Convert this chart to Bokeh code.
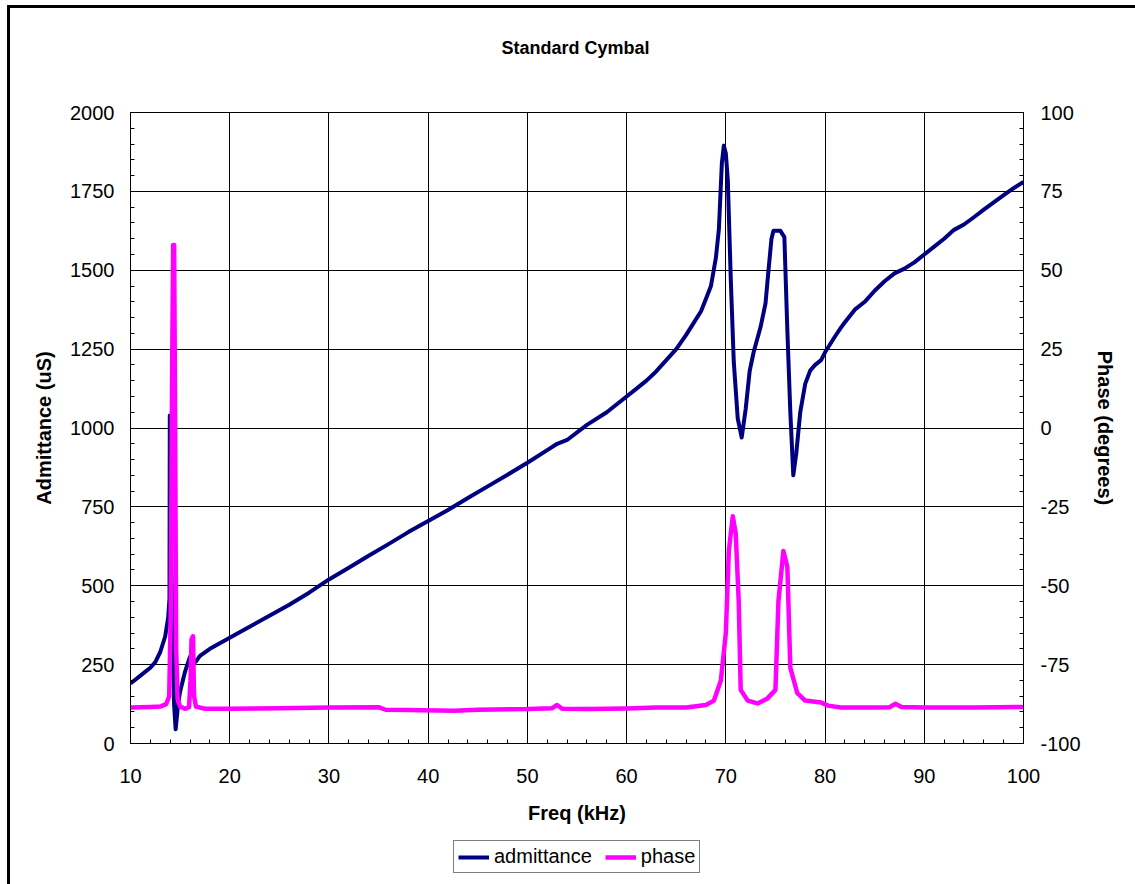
from bokeh.plotting import figure
from bokeh.layouts import column
from bokeh.models import (LinearAxis, Range1d, Legend, LegendItem, Label,
                          SingleIntervalTicker, PrintfTickFormatter, InlineStyleSheet)
from bokeh.embed import file_html
from bokeh.resources import INLINE

title_text = "Standard Cymbal"
x_label = "Freq (kHz)"
y_left_label = "Admittance (uS)"
y_right_label = "Phase (degrees)"
series_names = ["admittance", "phase"]

# Admittance (uS) vs frequency (kHz)
adm_freq = [10.0, 11.0, 12.0, 12.5, 13.0, 13.5, 13.8, 13.93, 13.96, 14.0, 14.2, 14.4, 14.55,
            14.8, 15.0, 15.5, 15.98, 16.2, 16.4, 16.6, 17.0, 18.0, 19.0, 20.0,
            22, 24, 26, 28, 30, 32, 34, 36, 38, 40, 42, 44, 46, 48, 50, 52, 53, 54,
            56, 58, 60, 61, 62, 63, 64, 65, 66, 67, 67.5, 68, 68.5, 69.0, 69.3, 69.6,
            69.8, 70.0, 70.2, 70.5, 70.8, 71.2, 71.6, 72.0, 72.4, 72.8, 73.5, 74.0,
            74.3, 74.6, 74.8, 75.5, 75.9, 76.2, 76.5, 76.8, 77.1, 77.5, 78.0, 78.5,
            79.0, 79.6, 80, 81, 81.6, 82, 83, 84, 85, 86, 87, 88, 89, 90, 91, 92, 93,
            94, 95, 96, 97, 98, 99, 100]
admittance = [190, 215, 240, 258, 290, 340, 400, 460, 1040, 800, 400, 120, 45,
              125, 165, 228, 274, 282, 255, 260, 278, 300, 318, 335,
              370, 405, 440, 478, 520, 557, 595, 632, 670, 705, 740, 778, 815, 852,
              890, 930, 950, 962, 1010, 1050, 1100, 1125, 1150, 1180, 1215, 1250,
              1295, 1345, 1370, 1410, 1450, 1540, 1630, 1840, 1895, 1870, 1785, 1470,
              1210, 1030, 970, 1060, 1180, 1240, 1320, 1395, 1500, 1600, 1625, 1625,
              1605, 1310, 1050, 850, 920, 1050, 1140, 1182, 1200, 1215, 1240, 1290,
              1318, 1335, 1375, 1400, 1435, 1465, 1490, 1505, 1525, 1550, 1575, 1600,
              1628, 1645, 1668, 1692, 1715, 1738, 1760, 1780]

# Phase (degrees) vs frequency (kHz)
ph_freq = [10, 12, 13, 13.6, 13.9, 14.05, 14.2, 14.3, 14.4, 14.5, 14.6, 14.75, 15.0,
           15.5, 15.9, 16.05, 16.15, 16.3, 16.4, 16.6, 17.5, 20, 25, 30, 35, 35.7,
           38, 42.6, 45, 50, 52.5, 53, 53.5, 56, 60, 63, 66, 68, 68.8, 69.5, 70.0,
           70.3, 70.7, 71.0, 71.3, 71.5, 72.2, 73.2, 74.2, 75.0, 75.3, 75.8, 76.2,
           76.5, 77.2, 78.0, 79.6, 80.3, 81.6, 85, 86.5, 87.1, 87.7, 90, 95, 100]
phase = [-88.6, -88.4, -88.3, -87.5, -85, -60, 20, 58, 58, 0, -70, -86, -88.3,
         -89, -88.5, -80, -67, -66, -85, -88.3, -89, -89, -88.8, -88.6, -88.5, -89.3,
         -89.4, -89.6, -89.3, -89.1, -88.8, -87.8, -89, -89.1, -88.9, -88.6, -88.6,
         -87.8, -86.4, -80, -65, -39, -28, -33.5, -55, -83, -86.4, -87.3, -85.7,
         -83, -55, -39, -44, -76, -84, -86.4, -87, -88, -88.6, -88.6, -88.5, -87.4,
         -88.4, -88.6, -88.6, -88.4]

FONT = "Liberation Sans"
ADM_COLOR = "#000080"
PH_COLOR = "#FF00FF"

W = 1135
TITLE_H = 70
LEG_H = 54
MAIN_H = 884 - TITLE_H - LEG_H
FRAME_TOP = 112 - TITLE_H
FRAME_BOTTOM = 743 - TITLE_H

# ---- title strip ----
tfig = figure(width=W, height=TITLE_H, x_range=Range1d(10, 100), y_range=Range1d(0, TITLE_H),
              x_axis_type=None, y_axis_type=None, output_backend="svg",
              toolbar_location=None, min_border=0, outline_line_color=None,
              background_fill_color="white", border_fill_color="white")
tfig.grid.visible = False
tfig.add_layout(Label(x=54.85, y=TITLE_H - 47.5, text=title_text, text_align="center",
                      text_baseline="middle", text_font=FONT, text_font_size="18px",
                      text_font_style="bold", text_color="black"))

# ---- main chart ----
p = figure(width=W, height=MAIN_H, x_range=Range1d(10, 100), y_range=Range1d(0, 2000),
           output_backend="svg", toolbar_location=None,
           min_border_left=130, min_border_right=112, min_border_top=FRAME_TOP,
           min_border_bottom=MAIN_H - FRAME_BOTTOM, background_fill_color="white",
           border_fill_color="white")
p.extra_y_ranges = {"phase": Range1d(-100, 100)}
p.title.text = ""
p.title.standoff = 0
p.outline_line_color = "black"
p.outline_line_width = 1

p.xgrid.ticker = SingleIntervalTicker(interval=10)
p.ygrid.ticker = SingleIntervalTicker(interval=250)
for g in (p.xgrid, p.ygrid):
    g.grid_line_color = "black"
    g.grid_line_width = 1

def style_axis(ax):
    ax.axis_line_color = "black"
    ax.major_tick_line_color = "black"
    ax.minor_tick_line_color = "black"
    ax.major_tick_in = 5
    ax.major_tick_out = 0
    ax.minor_tick_in = 4
    ax.minor_tick_out = 0
    ax.major_label_text_font = FONT
    ax.major_label_text_font_size = "20px"
    ax.major_label_text_color = "black"
    ax.axis_label_text_font = FONT
    ax.axis_label_text_font_size = "20px"
    ax.axis_label_text_font_style = "bold"
    ax.axis_label_text_color = "black"
    ax.formatter = PrintfTickFormatter(format="%d")

xa = p.xaxis[0]
xa.ticker = SingleIntervalTicker(interval=10, num_minor_ticks=5)
xa.axis_label = x_label
style_axis(xa)
xa.major_label_standoff = 25
xa.axis_label_standoff = 16

ya = p.yaxis[0]
ya.ticker = SingleIntervalTicker(interval=250, num_minor_ticks=5)
ya.axis_label = y_left_label
style_axis(ya)
ya.major_label_standoff = 16
ya.axis_label_standoff = 12

yr = LinearAxis(y_range_name="phase", axis_label=y_right_label,
                ticker=SingleIntervalTicker(interval=25, num_minor_ticks=5))
style_axis(yr)
yr.major_label_standoff = 17
yr.axis_label_standoff = 10
p.add_layout(yr, "right")

p.line(adm_freq, admittance, line_color=ADM_COLOR, line_width=4, line_join="round")
p.line(ph_freq, phase, line_color=PH_COLOR, line_width=4.5, line_join="round",
       y_range_name="phase")

# ---- legend strip ----
lfig = figure(width=W, height=LEG_H, x_range=Range1d(0, 1), y_range=Range1d(0, 1),
              x_axis_type=None, y_axis_type=None, output_backend="svg",
              toolbar_location=None, min_border=0, outline_line_color=None,
              background_fill_color="white", border_fill_color="white")
lfig.grid.visible = False
nan = float("nan")
k_adm = lfig.line([nan], [nan], line_color=ADM_COLOR, line_width=4)
k_ph = lfig.line([nan], [nan], line_color=PH_COLOR, line_width=4.5)

legend = Legend(items=[LegendItem(label=series_names[0], renderers=[k_adm]),
                       LegendItem(label=series_names[1], renderers=[k_ph])],
                orientation="horizontal", location=(453 - 130, 11),
                label_text_font=FONT, label_text_font_size="20px",
                label_text_color="black",
                glyph_width=31, glyph_height=20, label_height=20,
                label_standoff=5, spacing=13, padding=4, margin=0,
                border_line_color="black", border_line_width=1,
                background_fill_color="white", background_fill_alpha=1)
lfig.add_layout(legend, "center")

layout = column(tfig, p, lfig, spacing=0)
# outer chart-area border (left and top edges are visible in the reference)
layout.stylesheets = [InlineStyleSheet(css="""
:host { overflow: hidden; position: relative; }
:host::after {
  content: "";
  position: absolute;
  left: 7px; top: 5px;
  width: 3000px; height: 3000px;
  border-left: 3px solid black;
  border-top: 3px solid black;
  pointer-events: none;
  z-index: 10;
}
""")]

open("out.html", "w").write(file_html(layout, INLINE))
